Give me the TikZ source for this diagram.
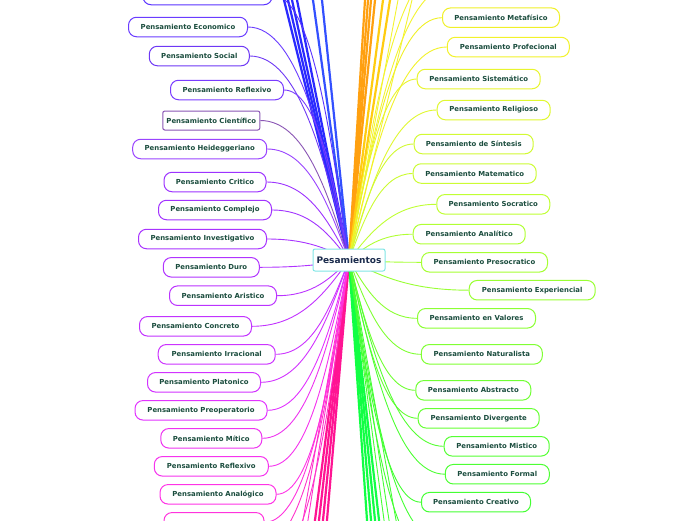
\documentclass[tikz,border=0pt]{standalone}
\usepackage{fontspec}
\setsansfont{DejaVu Sans}
\usetikzlibrary{calc, backgrounds}
\definecolor{txtgreen}{HTML}{1B4D3E}
\definecolor{txtnavy}{HTML}{1A2B4C}
\definecolor{rootline}{HTML}{80E6E6}
% left side
\definecolor{cTop}{HTML}{5A33FF}
\definecolor{cEco}{HTML}{6A3CFF}
\definecolor{cSoc}{HTML}{6E38F5}
\definecolor{cRefl}{HTML}{7A3CFF}
\definecolor{cCien}{HTML}{8A55B5}
\definecolor{cHeid}{HTML}{9A44FF}
\definecolor{cCrit}{HTML}{9D33FF}
\definecolor{cCompl}{HTML}{A233FF}
\definecolor{cInv}{HTML}{A833FF}
\definecolor{cDuro}{HTML}{B033FF}
\definecolor{cArist}{HTML}{BB33FF}
\definecolor{cConcr}{HTML}{C233FF}
\definecolor{cIrrac}{HTML}{CC33FF}
\definecolor{cPlat}{HTML}{D233FF}
\definecolor{cPreop}{HTML}{E233FF}
\definecolor{cMit}{HTML}{EE33F0}
\definecolor{cReflB}{HTML}{F633EE}
\definecolor{cAnalog}{HTML}{FF33E6}
\definecolor{cBot}{HTML}{FF33DD}
% right side
\definecolor{cMeta}{HTML}{F0F028}
\definecolor{cProf}{HTML}{F2F22A}
\definecolor{cSist}{HTML}{E8F52E}
\definecolor{cRelig}{HTML}{E0F830}
\definecolor{cSint}{HTML}{D2FA33}
\definecolor{cMate}{HTML}{CCFC33}
\definecolor{cSocr}{HTML}{C0FF33}
\definecolor{cAnal}{HTML}{B0FF33}
\definecolor{cPresoc}{HTML}{A6FF33}
\definecolor{cExper}{HTML}{99FF33}
\definecolor{cValor}{HTML}{8CFF33}
\definecolor{cNatur}{HTML}{80FF33}
\definecolor{cAbstr}{HTML}{70FF33}
\definecolor{cDiverg}{HTML}{66FF33}
\definecolor{cMist}{HTML}{55FF33}
\definecolor{cFormal}{HTML}{4DFF33}
\definecolor{cCreat}{HTML}{44FF33}
% off-screen trunks
\definecolor{tBlue}{HTML}{2A2AFF}
\definecolor{tBlueB}{HTML}{3350FF}
\definecolor{tOrange}{HTML}{FFA010}
\definecolor{tGold}{HTML}{FFCC11}
\definecolor{tYellow}{HTML}{F4F430}
\definecolor{tPink}{HTML}{FF1493}
\definecolor{tMag}{HTML}{FF33CC}
\definecolor{tGreen}{HTML}{11FF44}
\definecolor{tGreenB}{HTML}{44FF33}

\begin{document}
\begin{tikzpicture}[
    x=1pt, y=-1pt,
    topic/.style={rectangle, draw, fill=white, rounded corners=8pt, line width=1pt, minimum height=19.5pt, inner sep=0pt, text=txtgreen, font=\sffamily\bfseries\fontsize{6.9}{8}\selectfont},
    plain/.style={topic, rounded corners=2pt},
    central/.style={rectangle, draw=rootline, fill=white, rounded corners=2pt, line width=1pt, minimum width=72pt, minimum height=22pt, inner sep=0pt, text=txtnavy, font=\sffamily\bfseries\fontsize{9}{10}\selectfont},
    link/.style={line width=0.9pt},
    trunk/.style={line width=2.2pt}
]
    \useasboundingbox (0,0) rectangle (696,520);

    % Central topic
    \coordinate (hub) at (349,260);
    \node[central] (root) at (hub) {Pesamientos};

    % Left branches
    \node[topic, draw=cTop, minimum width=129pt] (top) at (207.5,-5) {};
    \node[topic, draw=cEco, minimum width=119pt] (eco) at (188,27) {Pensamiento Economico};
    \node[topic, draw=cSoc, minimum width=100pt] (soc) at (199.3,56) {Pensamiento Social};
    \node[topic, draw=cRefl, minimum width=113pt] (refl) at (227,90) {Pensamiento Reflexivo};
    \node[plain, draw=cCien, minimum width=97pt, minimum height=19pt] (cien) at (211.3,120.5) {Pensamiento Científico};
    \node[topic, draw=cHeid, minimum width=134pt] (heid) at (199.7,149) {Pensamiento Heideggeriano};
    \node[topic, draw=cCrit, minimum width=102pt] (crit) at (215,182) {Pensamiento Critico};
    \node[topic, draw=cCompl, minimum width=113pt] (compl) at (215,210) {Pensamiento Complejo};
    \node[topic, draw=cInv, minimum width=128pt] (inv) at (202.5,239) {Pensamiento Investigativo};
    \node[topic, draw=cDuro, minimum width=96pt] (duro) at (211.3,267.3) {Pensamiento Duro};
    \node[topic, draw=cArist, minimum width=107pt] (arist) at (223,295.7) {Pensamiento Aristico};
    \node[topic, draw=cConcr, minimum width=112pt] (concr) at (195.5,326.3) {Pensamiento Concreto};
    \node[topic, draw=cIrrac, minimum width=117pt] (irrac) at (216.7,354.3) {Pensamiento Irracional};
    \node[topic, draw=cPlat, minimum width=113pt] (plat) at (204,382.3) {Pensamiento Platonico};
    \node[topic, draw=cPreop, minimum width=132pt] (preop) at (201,410.3) {Pensamiento Preoperatorio};
    \node[topic, draw=cMit, minimum width=101pt] (mit) at (211.3,438.3) {Pensamiento Mítico};
    \node[topic, draw=cReflB, minimum width=114pt] (reflb) at (211.3,466.3) {Pensamiento Reflexivo};
    \node[topic, draw=cAnalog, minimum width=116pt] (analog) at (218,494.3) {Pensamiento Analógico};
    \node[topic, draw=cBot, minimum width=100pt] (bot) at (214,522.3) {};

    % Right branches
    \node[topic, draw=cMeta, minimum width=117pt] (meta) at (501,17.7) {Pensamiento Metafísico};
    \node[topic, draw=cProf, minimum width=122pt] (prof) at (508.3,47) {Pensamiento Profecional};
    \node[topic, draw=cSist, minimum width=123pt] (sist) at (478.7,79) {Pensamiento Sistemático};
    \node[topic, draw=cRelig, minimum width=113pt] (relig) at (493.7,110) {Pensamiento Religioso};
    \node[topic, draw=cSint, minimum width=119pt] (sint) at (473.7,144) {Pensamiento de Síntesis};
    \node[topic, draw=cMate, minimum width=123pt] (mate) at (474.7,173.5) {Pensamiento Matematico};
    \node[topic, draw=cSocr, minimum width=113pt] (socr) at (493.3,204.3) {Pensamiento Socratico};
    \node[topic, draw=cAnal, minimum width=112pt] (anal) at (469.2,234.2) {Pensamiento Analítico};
    \node[topic, draw=cPresoc, minimum width=126pt] (presoc) at (484.5,262.3) {Pensamiento Presocratico};
    \node[topic, draw=cExper, minimum width=126pt] (exper) at (532.2,290.2) {Pensamiento Experiencial};
    \node[topic, draw=cValor, minimum width=118pt] (valor) at (476.5,318.3) {Pensamiento en Valores};
    \node[topic, draw=cNatur, minimum width=121pt] (natur) at (481.8,354.3) {Pensamiento Naturalista};
    \node[topic, draw=cAbstr, minimum width=115pt] (abstr) at (473.3,390.3) {Pensamiento Abstracto};
    \node[topic, draw=cDiverg, minimum width=121pt] (diverg) at (478.7,418.3) {Pensamiento Divergente};
    \node[topic, draw=cMist, minimum width=105pt] (mist) at (496.7,446.3) {Pensamiento Mistico};
    \node[topic, draw=cFormal, minimum width=104pt] (formal) at (497.3,474.2) {Pensamiento Formal};
    \node[topic, draw=cCreat, minimum width=109pt] (creat) at (476,502.2) {Pensamiento Creativo};

    % Off-screen ends
    \coordinate (yA) at (452,-14);
    \coordinate (yB) at (446,-34);
    \coordinate (gA) at (440,540);
    \coordinate (gB) at (432,560);
    \coordinate (mA) at (262,545);
    \coordinate (mB) at (268,566);

    \begin{scope}[on background layer]
        \fill[white] (0,0) rectangle (696,520);
        % trunks to topics outside the view
        \foreach \x/\c in {284/tBlue, 288/tBlue, 292/tBlue, 297/tBlue, 313/tBlueB, 322/tBlueB,
                           365/tOrange, 368/tOrange, 371/tOrange, 375/tOrange, 383/tGold, 390/tGold}
            \draw[trunk, \c] (hub) -- ($(hub)!1.05!(\x,0)$);
        \foreach \x/\c in {315/tPink, 319/tPink, 323/tPink, 327/tPink, 367/tGreen, 371/tGreen, 375/tGreen, 379/tGreen}
            \draw[trunk, \c] (hub) -- ($(hub)!1.05!(\x,520)$);
        \foreach \x/\c in {398/tYellow, 412/tYellow}
            \draw[link, \c] (hub) -- ($(hub)!1.05!(\x,0)$);
        \foreach \x/\c in {303/tMag, 308/tMag, 384/tGreenB, 389/tGreenB, 396/tGreenB}
            \draw[link, \c] (hub) -- ($(hub)!1.05!(\x,520)$);
        % curved links
        \foreach \e/\c in {yA/tYellow, yB/tYellow, gA/tGreenB, gB/tGreenB, mA/tMag, mB/tMag,
                           top.east/cTop, eco.east/cEco, soc.east/cSoc, refl.east/cRefl, cien.east/cCien,
                           heid.east/cHeid, crit.east/cCrit, compl.east/cCompl, inv.east/cInv, duro.east/cDuro,
                           arist.east/cArist, concr.east/cConcr, irrac.east/cIrrac, plat.east/cPlat,
                           preop.east/cPreop, mit.east/cMit, reflb.east/cReflB, analog.east/cAnalog, bot.east/cBot,
                           meta.west/cMeta, prof.west/cProf, sist.west/cSist, relig.west/cRelig, sint.west/cSint,
                           mate.west/cMate, socr.west/cSocr, anal.west/cAnal, presoc.west/cPresoc,
                           exper.west/cExper, valor.west/cValor, natur.west/cNatur, abstr.west/cAbstr,
                           diverg.west/cDiverg, mist.west/cMist, formal.west/cFormal, creat.west/cCreat}
            \draw[link, \c] let \p1=(hub), \p2=(\e) in
                (hub) .. controls (\x1+0.25*\x2-0.25*\x1, \y1+0.5*\y2-0.5*\y1)
                      and (0.5*\x1+0.5*\x2, \y2) .. (\e);
    \end{scope}

\end{tikzpicture}
\end{document}
